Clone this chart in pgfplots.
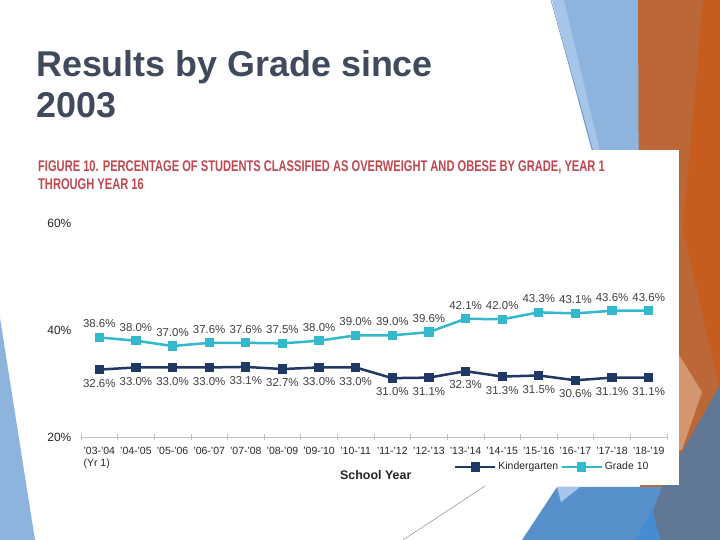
\documentclass[border=0pt]{standalone}
\usepackage{pgfplots}
\pgfplotsset{compat=1.18}
\usepackage{fontspec}
\setmainfont{Liberation Sans}
\newfontfamily\condfont[FakeStretch=0.72]{Liberation Sans}
\definecolor{kcol}{RGB}{31,56,100}
\definecolor{gcol}{RGB}{52,184,204}
\definecolor{titlecol}{RGB}{64,74,92}
\definecolor{figcol}{RGB}{192,72,80}
\definecolor{lblcol}{RGB}{64,64,64}
\definecolor{tickcol}{RGB}{38,38,38}
\definecolor{ltblue}{RGB}{141,180,220}
\definecolor{ltblue2}{RGB}{165,198,232}
\definecolor{orgA}{RGB}{187,103,56}
\definecolor{orgB}{RGB}{198,92,30}
\definecolor{tanc}{RGB}{210,150,112}
\definecolor{grayblue}{RGB}{96,120,150}
\definecolor{midblue}{RGB}{88,144,204}
\definecolor{brblue}{RGB}{70,140,210}
\definecolor{linea}{RGB}{90,130,180}
\definecolor{lineb}{RGB}{140,160,185}
\begin{document}
\begin{tikzpicture}[x=1bp,y=1bp]
\useasboundingbox (0,0) rectangle (720,540);
\fill[white] (0,0) rectangle (720,540);
\begin{scope}[shift={(0,540)}, yscale=-1]
  % decorative slide shapes
  \fill[ltblue] (560,0) -- (638,0) -- (662,170) -- (600,170) -- cycle;
  \fill[ltblue2] (552,0) -- (564,0) -- (602,160) -- (594,160) -- cycle;
  \draw[linea, line width=0.5bp] (551,0) -- (598,170);
  \fill[orgA] (638,0) -- (720,0) -- (720,540) -- (640,540) -- cycle;
  \fill[orgB] (703,0) -- (720,0) -- (720,390) -- (683,230) -- cycle;
  \fill[tanc] (679,355) -- (702,392) -- (682,450) -- (679,450) -- cycle;
  \fill[midblue] (522,540) -- (557,487) -- (680,487) -- (680,540) -- cycle;
  \fill[ltblue2] (557,487) -- (580,487) -- (561,502) -- cycle;
  \fill[grayblue] (720,385) -- (720,540) -- (642,540) -- (662,487) -- cycle;
  \fill[brblue] (636,540) -- (652,508) -- (660,540) -- cycle;
  \draw[lineb, line width=0.6bp] (403,540) -- (485,486);
  \fill[ltblue] (0,318) -- (35,540) -- (0,540) -- cycle;
  % chart panel
  \fill[white] (30,150) rectangle (679,485);
  % slide title
  \node[anchor=base west, inner sep=0, text=titlecol, font=\bfseries\fontsize{36}{42}\selectfont] at (36,77) {Results by Grade since};
  \node[anchor=base west, inner sep=0, text=titlecol, font=\bfseries\fontsize{36}{42}\selectfont] at (36,118) {2003};
  % figure caption
  \node[anchor=base west, inner sep=0, text=figcol, font=\condfont\bfseries\fontsize{15.5}{18.5}\selectfont] at (38,172) {FIGURE 10. PERCENTAGE OF STUDENTS CLASSIFIED AS OVERWEIGHT AND OBESE BY GRADE, YEAR 1};
  \node[anchor=base west, inner sep=0, text=figcol, font=\condfont\bfseries\fontsize{15.5}{18.5}\selectfont] at (38,190) {THROUGH YEAR 16};
\end{scope}
\begin{axis}[
  at={(81bp,103bp)}, anchor=south west,
  scale only axis, width=586bp, height=214bp,
  xmin=-0.5, xmax=15.5, ymin=20, ymax=60,
  /pgf/number format/assume math mode=true,
  axis x line*=bottom, axis y line*=left,
  y axis line style={draw=none},
  x axis line style={draw=black!25, line width=0.6bp},
  xtick={0,...,15},
  xticklabels={{'03-'04\\(Yr 1)},'04-'05,'05-'06,'06-'07,'07-'08,'08-'09,'09-'10,'10-'11,'11-'12,'12-'13,'13-'14,'14-'15,'15-'16,'16-'17,'17-'18,'18-'19},
  major x tick style={draw=none},
  minor xtick={-0.5,0.5,...,15.5},
  minor x tick style={draw=black!25, line width=0.6bp},
  minor tick length=6bp, tick align=center,
  xticklabel style={font=\fontsize{10.5}{12}\selectfont, text=tickcol, align=left, anchor=north, yshift=-5bp},
  ytick={20,40,60}, yticklabels={20\%,40\%,60\%},
  ytick style={draw=none},
  yticklabel style={font=\fontsize{12}{14}\selectfont, text=tickcol, anchor=east, xshift=-4bp},
  xlabel={School Year},
  xlabel style={font=\bfseries\fontsize{12.5}{14}\selectfont, text=tickcol, at={(axis description cs:0.503,-0.178)}, anchor=center},
  legend columns=2,
  legend style={draw=none, fill=none, at={(axis description cs:0.636,-0.14)}, anchor=west,
    font=\fontsize{10.5}{12}\selectfont, text=tickcol, inner sep=0pt,
    /tikz/every even column/.append style={column sep=0bp}},
  legend image code/.code={\draw[mark repeat=2,mark phase=2,#1] plot coordinates {(0bp,0bp) (20bp,0bp) (40bp,0bp)};},
  clip=false,
]
\addplot[kcol, line width=2.5bp, mark=square*, mark size=3.4bp,
  nodes near coords={\pgfmathprintnumber[fixed,fixed zerofill,precision=1]{\pgfplotspointmeta}\%},
  nodes near coords align={below},
  every node near coord/.append style={font=\fontsize{11.5}{13}\selectfont, text=lblcol, yshift=-5bp}]
coordinates {(0,32.6) (1,33.0) (2,33.0) (3,33.0) (4,33.1) (5,32.7) (6,33.0) (7,33.0) (8,31.0) (9,31.1) (10,32.3) (11,31.3) (12,31.5) (13,30.6) (14,31.1) (15,31.1)};
\addlegendentry{Kindergarten}
\addplot[gcol, line width=2.5bp, mark=square*, mark size=3.4bp,
  nodes near coords={\pgfmathprintnumber[fixed,fixed zerofill,precision=1]{\pgfplotspointmeta}\%},
  nodes near coords align={above},
  every node near coord/.append style={font=\fontsize{11.5}{13}\selectfont, text=lblcol, yshift=5bp}]
coordinates {(0,38.6) (1,38.0) (2,37.0) (3,37.6) (4,37.6) (5,37.5) (6,38.0) (7,39.0) (8,39.0) (9,39.6) (10,42.1) (11,42.0) (12,43.3) (13,43.1) (14,43.6) (15,43.6)};
\addlegendentry{Grade 10}
\end{axis}
\end{tikzpicture}
\end{document}
